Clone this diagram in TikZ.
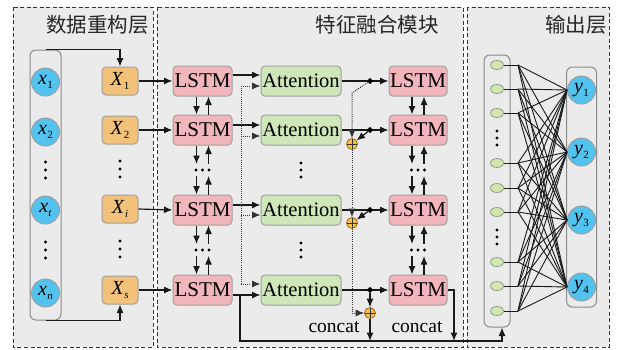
\documentclass[tikz,border=0pt]{standalone}
\usepackage{fontspec}
\setmainfont{Liberation Serif}
\newfontfamily\cjk{Noto Sans CJK SC}
\usetikzlibrary{arrows.meta,shapes.geometric,calc}
\definecolor{panelbg}{HTML}{EBEBEB}
\definecolor{lstmc}{HTML}{F2B5BB}
\definecolor{attc}{HTML}{CFE6B8}
\definecolor{xboxc}{HTML}{F2C27B}
\definecolor{bluec}{HTML}{52C3EE}
\definecolor{greenc}{HTML}{D2E7AE}
\definecolor{gbord}{HTML}{8FA08A}
\definecolor{plusc}{HTML}{F6C244}
\definecolor{bordc}{HTML}{A0A0A0}
\definecolor{contc}{HTML}{8A8A8A}
\newcommand{\vsub}[2]{\textit{#1}\kern0.3pt\raisebox{-0.4ex}{\fontsize{11}{11}\selectfont #2}}
\begin{document}
\begin{tikzpicture}[x=1pt,y=-1pt,
  panel/.style={draw=black!80, line width=0.9pt, dash pattern=on 4pt off 2.5pt, fill=panelbg},
  box/.style={draw=bordc, line width=1pt, rounded corners=4pt, inner sep=0pt, minimum height=30pt, font=\fontsize{21}{21}\selectfont},
  lstm/.style={box, fill=lstmc, minimum width=59pt},
  att/.style={box, fill=attc, minimum width=80pt, font=\fontsize{20.5}{20.5}\selectfont},
  rlstm/.style={box, fill=lstmc, minimum width=58pt},
  xb/.style={box, fill=xboxc, minimum width=36pt, minimum height=28pt, font=\fontsize{20}{20}\selectfont},
  cir/.style={circle, draw=bordc, line width=1pt, fill=bluec, minimum size=28pt, inner sep=0pt, font=\fontsize{20}{20}\selectfont},
  gn/.style={ellipse, draw=gbord, line width=0.8pt, fill=greenc, minimum width=13pt, minimum height=9pt, inner sep=0pt},
  cont/.style={draw=contc, line width=1pt, rounded corners=6pt, inner sep=0pt},
  ln/.style={line width=1.2pt, draw=black!90},
  thin/.style={line width=0.9pt, draw=black!90},
  arr/.style={ln, -{Latex[length=8.5pt,width=7pt]}},
  dotl/.style={line width=1pt, dash pattern=on 1pt off 1.1pt, draw=black!80},
  darr/.style={dotl, -{Latex[length=8.5pt,width=7pt]}},
  jn/.style={diamond, fill=black, inner sep=0pt, minimum size=6.5pt},
  plus/.style={circle, draw=orange!60!black, line width=0.6pt, fill=plusc, minimum size=11pt, inner sep=0pt,
    path picture={\draw[black!80, line width=0.7pt] (path picture bounding box.north) -- (path picture bounding box.south) (path picture bounding box.west) -- (path picture bounding box.east);}},
  ttl/.style={font=\cjk\fontsize{20.5}{20.5}\selectfont, text=black!85, anchor=east, inner sep=0pt},
  lbl/.style={font=\fontsize{19.5}{19.5}\selectfont, inner sep=0pt}
]
\useasboundingbox (0,0) rectangle (617,349);
% panels
\draw[panel] (13,7) rectangle (153,347);
\draw[panel] (157,7) rectangle (463,347);
\draw[panel] (467,7) rectangle (609,347);
\node[ttl] (t1) at (149,25) {数据重构层};
\node[ttl] (t2) at (439,25) {特征融合模块};
\node[ttl] (t3) at (607,25) {输出层};

% left: input sequence
\node[cont, minimum width=31pt, minimum height=270pt] (xin) at (45.5,185) {};
\node[cir] (x1) at (45.5,82) {\vsub{x}{1}};
\node[cir] (x2) at (45.5,132) {\vsub{x}{2}};
\node[cir] (xt) at (45.5,210) {\vsub{x}{\textit{t}}};
\node[cir] (xn) at (45.5,293) {\vsub{x}{\textit{n}}};
\foreach \yy in {170,250} {\foreach \d in {-8,0,8} \fill (45.5,\yy+\d) circle (1.7pt);}

\node[xb] (X1) at (120,81) {\vsub{X}{1}};
\node[xb] (X2) at (120,130) {\vsub{X}{2}};
\node[xb] (Xi) at (120,209) {\vsub{X}{\textit{i}}};
\node[xb] (Xs) at (120,290) {\vsub{X}{\textit{s}}};
\foreach \yy in {169,249} {\foreach \d in {-8,0,8} \fill (120,\yy+\d) circle (1.7pt);}
\draw[arr] (xin.north) -| (X1.north);
\draw[arr] (xin.south) -| (Xs.south);

% middle: LSTM / Attention / LSTM
\foreach \n/\yy in {1/81,2/130,3/210,4/290} {
  \node[lstm] (L\n) at (202.5,\yy) {LSTM};
  \node[att] (A\n) at (301,\yy) {Attention};
  \node[rlstm] (R\n) at (418,\yy) {LSTM};
}
\draw[arr] (X1.east) -- (L1.west);
\draw[arr] (X2.east) -- (L2.west);
\draw[arr] (Xi.east) -- (L3.west);
\draw[arr] (Xs.east) -- (L4.west);

% vertical links between LSTMs (left and right columns)
\foreach \C/\cx in {L/202.5,R/418} {
  \coordinate (\C d1a) at (\cx-6,164);
  \coordinate (\C d1b) at (\cx+6,164);
  \coordinate (\C d1c) at (\cx-6,176);
  \coordinate (\C d1d) at (\cx+6,176);
  \coordinate (\C d2a) at (\cx-6,244);
  \coordinate (\C d2b) at (\cx+6,244);
  \coordinate (\C d2c) at (\cx-6,256);
  \coordinate (\C d2d) at (\cx+6,256);
  \draw[arr] ($(\C1.south)+(-6,0)$) -- ($(\C2.north)+(-6,0)$);
  \draw[arr] ($(\C2.north)+(6,0)$) -- ($(\C1.south)+(6,0)$);
  \draw[arr] ($(\C2.south)+(-6,0)$) -- (\C d1a);
  \draw[arr] (\C d1b) -- ($(\C2.south)+(6,0)$);
  \draw[arr] (\C d1c) -- ($(\C3.north)+(-6,0)$);
  \draw[arr] ($(\C3.north)+(6,0)$) -- (\C d1d);
  \draw[arr] ($(\C3.south)+(-6,0)$) -- (\C d2a);
  \draw[arr] (\C d2b) -- ($(\C3.south)+(6,0)$);
  \draw[arr] (\C d2c) -- ($(\C4.north)+(-6,0)$);
  \draw[arr] ($(\C4.north)+(6,0)$) -- (\C d2d);
  \foreach \yy in {170,250} {\foreach \d in {-6.5,0,6.5} \fill (\cx+\d,\yy) circle (1.6pt);}
}
\foreach \yy in {170,250} {\foreach \d in {-7,0,7} \fill (301,\yy+\d) circle (1.7pt);}

% LSTM -> Attention (solid) and shared dotted input
\draw[arr] ($(L1.east)+(0,-6)$) -- ($(A1.west)+(0,-6)$);
\draw[arr] ($(L2.east)+(0,-5)$) -- ($(A2.west)+(0,-5)$);
\draw[arr] ($(L3.east)+(0,-5)$) -- ($(A3.west)+(0,-5)$);
\draw[arr] ($(L4.east)+(0,5)$) -- ($(A4.west)+(0,5)$);
\coordinate (dtop) at (241,86);
\coordinate (dm2) at (241,136);
\coordinate (dm3) at (241,215);
\coordinate (dbot) at (241,284);
\draw[dotl] (dtop) -- (dbot);
\draw[darr] (dtop) -- (dtop -| A1.west);
\draw[darr] (dm2) -- (dm2 -| A2.west);
\draw[darr] (dm3) -- (dm3 -| A3.west);
\draw[darr] (dbot) -- (dbot -| A4.west);

% Attention -> junction -> right LSTM
\foreach \n/\yy in {1/81,2/130,3/210,4/290} {
  \coordinate (jc\n) at (370,\yy);
  \draw[ln] (A\n.east) -- (jc\n);
  \draw[arr] (jc\n) -- (R\n.west);
  \node[jn] (j\n) at (jc\n) {};
}
\node[plus] (p2) at (352,144) {};
\node[plus] (p3) at (352,223) {};
\node[plus] (p4) at (370,313) {};
\coordinate (k1) at (352,93);
\draw[darr] (j1) -- (k1) -- (p2.north);
\draw[arr] (j2) -- (p2);
\draw[darr] (p2.south) -- (p3.north);
\draw[arr] (j3) -- (p3);
\draw[darr] (p3.south) |- (p4.west);
\draw[arr] (j4) -- (p4.north);

% bottom bus to output layer
\coordinate (b0) at (240,295);
\coordinate (bl) at (240,341);
\coordinate (r4d) at (454,341);
\draw[arr] (p4.south) -- (p4.south |- bl);
\draw[arr] (R4.east) -| (r4d);
\node[lbl] (c1) at (334,327) {concat};
\node[lbl] (c2) at (417,327) {concat};

% right: output layer
\node[cont, minimum width=26pt, minimum height=272pt] (hin) at (497,191) {};
\node[cont, minimum width=30pt, minimum height=240pt] (yout) at (581.5,187) {};
\draw[arr] (b0) -- (bl) -| ($(hin.south)+(5,0)$);
\node[cir] (y1) at (581.5,90) {\vsub{y}{1}};
\node[cir] (y2) at (581.5,152) {\vsub{y}{2}};
\node[cir] (y3) at (581.5,220) {\vsub{y}{3}};
\node[cir] (y4) at (581.5,287) {\vsub{y}{4}};
\foreach \i/\yy in {1/65,2/89,3/113,4/163,5/188,6/212,7/262,8/286,9/311} {
  \node[gn] (g\i) at (497,\yy) {};
  \coordinate (f\i) at (518,\yy);
  \draw[thin] (g\i.east) -- (f\i);
  \foreach \k in {1,2,3,4} \draw[thin] (f\i) -- (y\k.west);
}
\foreach \yy in {138,237} {\foreach \d in {-7,0,7} \fill (497,\yy+\d) circle (1.6pt);}
\end{tikzpicture}
\end{document}
